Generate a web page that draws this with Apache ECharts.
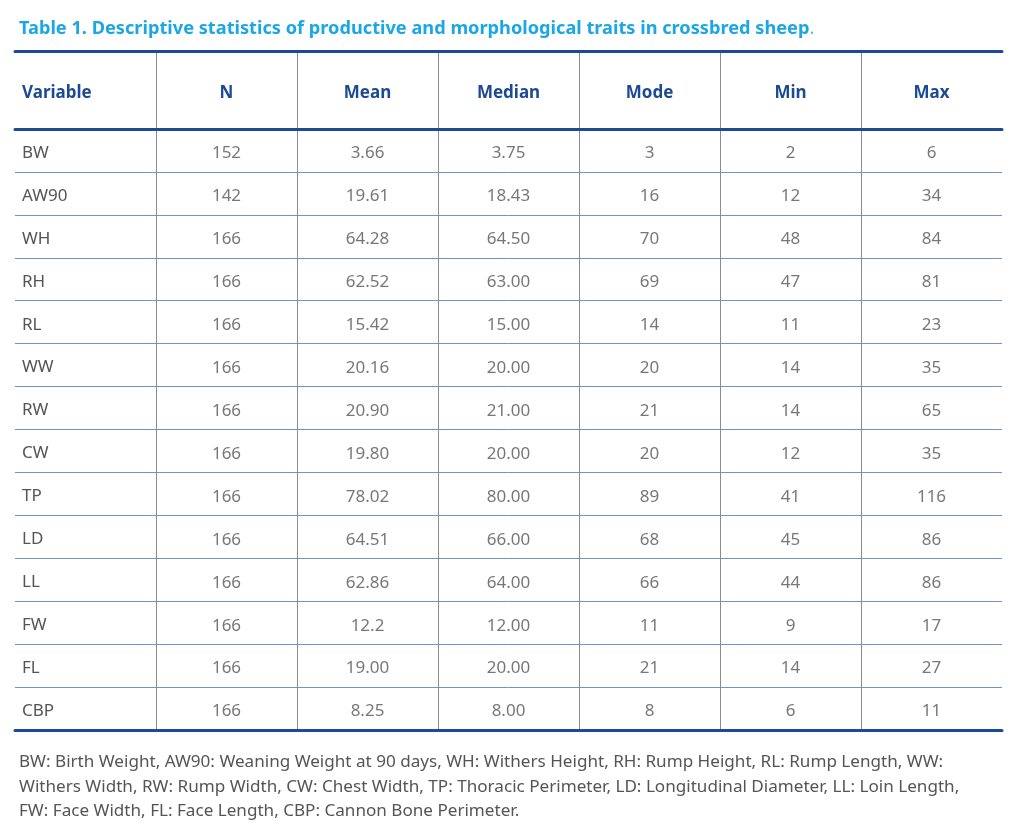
<!DOCTYPE html>
<html><head><meta charset="utf-8">
<script src="https://cdn.jsdelivr.net/npm/echarts@6/dist/echarts.min.js"></script>
<style>html,body{margin:0;padding:0;background:#fff}#c{width:1024px;height:826px}</style>
</head><body><div id="c"></div>
<script>
const titleText = 'Table 1. Descriptive statistics of productive and morphological traits in crossbred sheep';
const footnoteLines = [
  'BW: Birth Weight, AW90: Weaning Weight at 90 days, WH: Withers Height, RH: Rump Height, RL: Rump Length, WW:',
  'Withers Width, RW: Rump Width, CW: Chest Width, TP: Thoracic Perimeter, LD: Longitudinal Diameter, LL: Loin Length,',
  'FW: Face Width, FL: Face Length, CBP: Cannon Bone Perimeter.'
];
const columns = ['Variable','N','Mean','Median','Mode','Min','Max'];
const variables = ['BW','AW90','WH','RH','RL','WW','RW','CW','TP','LD','LL','FW','FL','CBP'];
const nValues = ['152','142','166','166','166','166','166','166','166','166','166','166','166','166'];
const meanValues = ['3.66','19.61','64.28','62.52','15.42','20.16','20.90','19.80','78.02','64.51','62.86','12.2','19.00','8.25'];
const medianValues = ['3.75','18.43','64.50','63.00','15.00','20.00','21.00','20.00','80.00','66.00','64.00','12.00','20.00','8.00'];
const modeValues = ['3','16','70','69','14','20','21','20','89','68','66','11','21','8'];
const minValues = ['2','12','48','47','11','14','14','12','41','45','44','9','14','6'];
const maxValues = ['6','34','84','81','23','35','65','35','116','86','86','17','27','11'];

const statColumns = [nValues, meanValues, medianValues, modeValues, minValues, maxValues];
const cellData = [];
statColumns.forEach((vals, ci) => {
  vals.forEach((v, ri) => { cellData.push([columns[ci + 1], variables[ri], v]); });
});

const FONT = 'Noto Sans';
const dark = '#1d4a94';
const textGray = '#555555';
const gridPos = { left: 15, right: 22 };

const chart = echarts.init(document.getElementById('c'));
chart.setOption({
  backgroundColor: '#ffffff',
  animation: false,
  textStyle: { fontFamily: FONT },
  title: [
    {
      text: '{a|' + titleText + '}{b|.}', left: 14, top: 15,
      textStyle: { rich: {
        a: { fontFamily: FONT, fontSize: 18.2, fontWeight: 'bold', color: '#1ba6e4' },
        b: { fontFamily: FONT, fontSize: 18.2, fontWeight: 'normal', color: '#6fb4dc' }
      } }
    },
    {
      text: footnoteLines.join('\n'), left: 14, top: 745,
      textStyle: { fontFamily: FONT, fontSize: 17.1, fontWeight: 'normal', color: textGray, lineHeight: 24.5 }
    }
  ],
  grid: [
    Object.assign({ top: 51, height: 78 }, gridPos),
    Object.assign({ top: 129, height: 601 }, gridPos)
  ],
  xAxis: [
    {
      gridIndex: 0, type: 'category', data: columns, position: 'top',
      axisLine: { show: true, lineStyle: { color: dark, width: 3 } },
      axisTick: { show: false },
      axisLabel: { inside: true, margin: 42, verticalAlign: 'middle', interval: 0,
        fontFamily: FONT, fontSize: 17, fontWeight: 'bold', color: dark,
        formatter: v => (v === columns[0] ? '' : v) },
      splitLine: { show: true, interval: 0, showMinLine: false, showMaxLine: false,
        lineStyle: { color: '#8c8c8c', width: 1 } }
    },
    {
      gridIndex: 1, type: 'category', data: columns, position: 'top',
      axisLine: { show: true, lineStyle: { color: dark, width: 3 } },
      axisTick: { show: false }, axisLabel: { show: false },
      splitLine: { show: true, interval: 0, showMinLine: false, showMaxLine: false,
        lineStyle: { color: '#8c8c8c', width: 1 } }
    },
    {
      gridIndex: 1, type: 'category', data: columns, position: 'bottom',
      axisLine: { show: true, lineStyle: { color: dark, width: 3 } },
      axisTick: { show: false }, axisLabel: { show: false }, splitLine: { show: false }
    }
  ],
  yAxis: [
    {
      gridIndex: 0, type: 'category', data: [columns[0]],
      axisLine: { show: false }, axisTick: { show: false }, splitLine: { show: false },
      axisLabel: { inside: true, margin: 7, formatter: v => '{v|' + v + '}',
        rich: { v: { padding: [7, 0, 0, 0], fontFamily: FONT, fontSize: 17, fontWeight: 'bold', color: dark } } }
    },
    {
      gridIndex: 1, type: 'category', data: variables, inverse: true,
      axisLine: { show: false }, axisTick: { show: false },
      axisLabel: { inside: true, margin: 7, interval: 0, formatter: v => '{v|' + v + '}',
        rich: { v: { padding: [5, 0, 0, 0], fontFamily: FONT, fontSize: 17, color: textGray } } },
      splitLine: { show: true, interval: 0, showMinLine: false, showMaxLine: false,
        lineStyle: { color: '#6f93cc', width: 1 } }
    }
  ],
  series: [
    {
      type: 'scatter', xAxisIndex: 1, yAxisIndex: 1, data: cellData,
      symbolSize: 1, itemStyle: { color: 'rgba(0,0,0,0)' }, silent: true,
      encode: { x: 0, y: 1 },
      label: { show: true, position: 'inside', offset: [0, 3], formatter: p => p.value[2],
        fontFamily: FONT, fontSize: 17, color: textGray }
    }
  ]
});
</script>
</body></html>
